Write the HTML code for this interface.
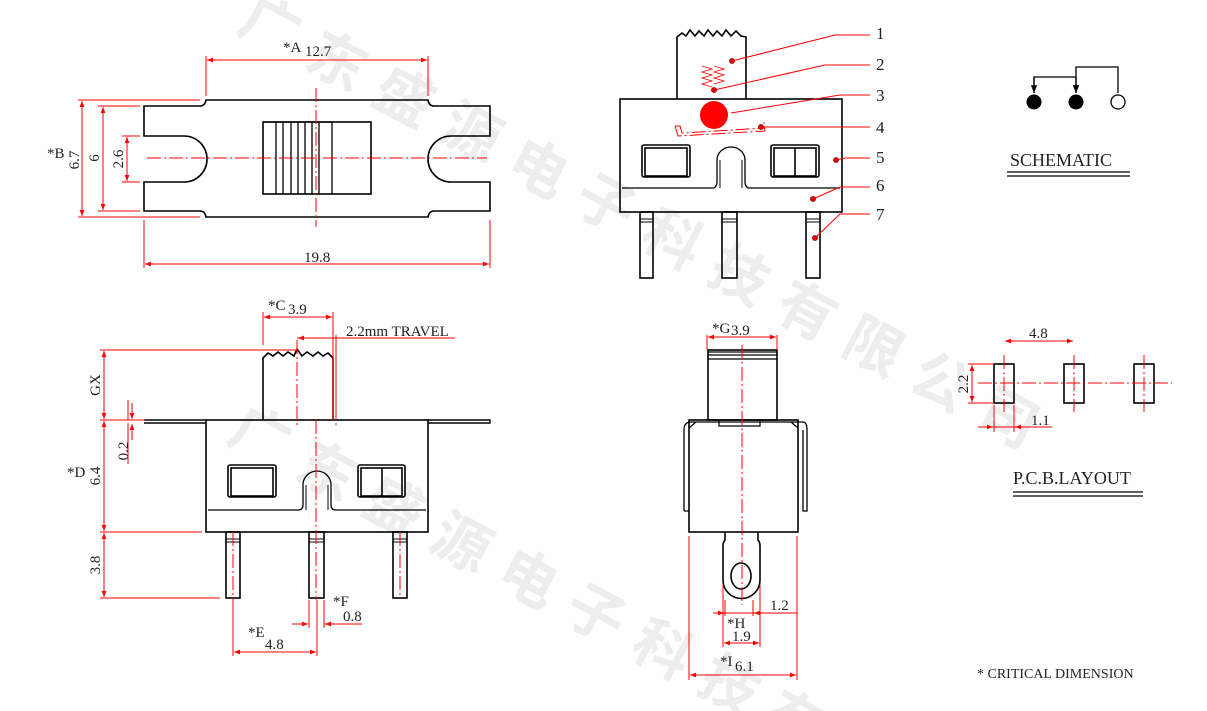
<!DOCTYPE html>
<html><head><meta charset="utf-8"><style>
html,body{margin:0;padding:0;background:#fff;width:1207px;height:711px;overflow:hidden;}
svg{display:block;}
text{font-family:"Liberation Serif",serif;}
.wm{font-family:"Noto Sans CJK SC",sans-serif;font-weight:bold;fill:#ededed;font-size:58px;}
</style></head><body>
<svg width="1207" height="711" viewBox="0 0 1207 711" xmlns="http://www.w3.org/2000/svg">
<defs>
<marker id="a" viewBox="0 0 10 10" refX="10" refY="5" markerWidth="8" markerHeight="6" orient="auto-start-reverse"><path d="M0,1 L10,5 L0,9z" fill="#f00"/></marker>
<marker id="k" viewBox="0 0 10 10" refX="10" refY="5" markerWidth="7" markerHeight="6" orient="auto"><path d="M0,1 L10,5 L0,9z" fill="#000"/></marker>
</defs>
<text class="wm" x="0" y="0" transform="translate(235,30) rotate(28)" letter-spacing="18">广东盛源电子科技有限公司</text>
<text class="wm" x="0" y="0" transform="translate(225,440) rotate(28)" letter-spacing="18">广东盛源电子科技有限公司</text>

<g fill="none" stroke="#000" stroke-width="1.6">
<path d="M144,106 H200 Q205,106 206,100 H428 Q429,106 434,106 H490 V136 H451 A23,23 0 0 0 451,182 H490 V211 H434 Q429,211 428,217 H206 Q205,211 200,211 H144 V182 H184 A23,23 0 0 0 184,136 H144 Z"/>
<rect x="263" y="122" width="108" height="72"/>
<path d="M263,122 H332 V194 M276,122V194 M283,122V194 M291,122V194 M298,122V194 M305,122V194 M312,122V194 M319,122V194" stroke-width="1.3"/>
<path d="M677,99 V37 L682,33 L686,36 L690,30 L695,36 L699,31 L704,36 L708,30 L713,36 L717,31 L722,36 L726,30 L731,36 L736,31 L741,36 L746,37 V99"/>
<rect x="620" y="99" width="222" height="113"/>
<path d="M622,188 H714 Q717,186 717,182 V160 A14,13 0 0 1 745,160 V182 Q745,186 748,188 H840" stroke-width="1.3"/>
<path d="M720,188 V160 M742,188 V160" stroke-width="1"/>
<rect x="642" y="145" width="48" height="32" rx="2"/><rect x="645" y="148" width="42" height="28"/>
<rect x="771" y="145" width="48" height="32" rx="2"/><rect x="774" y="148" width="42" height="28"/><line x1="795" y1="148" x2="795" y2="176"/>
<rect x="640" y="212" width="13" height="66"/><rect x="722" y="212" width="15" height="66"/><rect x="806" y="212" width="14" height="66"/>
<path d="M640,219H653M640,222H653M722,219H737M722,222H737M806,219H820M806,222H820" stroke-width="1"/>
<path d="M263,420 V358 L268,353 L273,356 L278,352 L283,356 L288,352 L294,356 L297,349 L302,356 L307,352 L313,356 L318,352 L323,356 L328,353 L333,358 V420"/>
<path d="M144,420 H206 M428,420 H490 V423 H428 M206,423 H144 Z" stroke-width="1.4"/>
<rect x="206" y="420" width="222" height="112"/>
<path d="M208,510 H298 Q303,510 303,505 V485 A14,14 0 0 1 331,485 V505 Q331,510 336,510 H426" stroke-width="1.3"/>
<path d="M306,510 V485 M328,510 V485" stroke-width="1"/>
<rect x="228" y="465" width="48" height="32" rx="2"/><rect x="231" y="468" width="42" height="28"/>
<rect x="358" y="465" width="47" height="32" rx="2"/><rect x="361" y="468" width="41" height="28"/><line x1="382" y1="468" x2="382" y2="496"/>
<rect x="226" y="532" width="14" height="66"/><rect x="309" y="532" width="15" height="66"/><rect x="393" y="532" width="14" height="66"/>
<path d="M226,539H240M226,542H240M309,539H324M309,542H324M393,539H407M393,542H407" stroke-width="1"/>
<rect x="708" y="350" width="69" height="70"/>
<path d="M708,352H777M708,355H777M708,359H777" stroke-width="1.2"/>
<rect x="689" y="420" width="109" height="112"/>
<path d="M684,511 V430 Q684,422 691,422 H803 Q807,422 807,430 V511 H803 V430 M684,511 H689" stroke-width="1.3"/>
<path d="M689,428 L696,422 M798,428 L791,422 M719,420 V426 H760 V420" stroke-width="1.2"/>
<path d="M725,532 V540 Q723,542 723,546 V580 A18,18 0 0 0 760,580 V546 Q760,542 758,540 V532"/>
<ellipse cx="741" cy="576" rx="10" ry="13"/>
<path d="M1034,93 V77 H1076 V67 H1118 V93 M1076,77 V93" stroke-width="1.3" marker-end="url(#k)"/>
<line x1="1076" y1="77" x2="1076" y2="93" stroke-width="1.3" marker-end="url(#k)"/>
<line x1="1034" y1="77" x2="1034" y2="93" stroke-width="1.3" marker-end="url(#k)"/>
<circle cx="1118" cy="102" r="7" stroke-width="1.3"/>
<path d="M1007,172H1130M1007,176H1130" stroke-width="1.2"/>
<rect x="994" y="364" width="20" height="39"/><rect x="1064" y="364" width="20" height="39"/><rect x="1134" y="364" width="20" height="39"/>
<path d="M1013,492H1143M1013,496H1143" stroke-width="1.2"/>
</g>
<circle cx="1034" cy="102" r="7.5"/><circle cx="1076" cy="102" r="7.5"/>

<g stroke="#f00" fill="none" stroke-width="1">
<g stroke-dasharray="14,3,2,3">
<line x1="147" y1="158" x2="487" y2="158"/><line x1="316" y1="88" x2="316" y2="227"/>
<line x1="316" y1="420" x2="316" y2="600"/><line x1="297" y1="340" x2="297" y2="425"/><line x1="336" y1="340" x2="336" y2="425"/>
<line x1="233" y1="532" x2="233" y2="655"/><line x1="400" y1="532" x2="400" y2="598"/>
<line x1="742" y1="345" x2="742" y2="605"/>
<line x1="978" y1="383" x2="1172" y2="383"/>
<line x1="1004" y1="355" x2="1004" y2="412"/><line x1="1074" y1="355" x2="1074" y2="412"/><line x1="1144" y1="355" x2="1144" y2="412"/>
<path d="M675,126 L678,136 L765,131 L764,122 M675,126 L680,126 L682,133 L765,128" />
</g>
<path d="M206,56V96 M428,56V96 M78,100H200 M98,106H140 M122,136H140 M122,182H140 M98,211H140 M78,217H200 M144,220V268 M490,220V268"/>
<g marker-start="url(#a)" marker-end="url(#a)">
<line x1="207" y1="60" x2="427" y2="60"/><line x1="82" y1="101" x2="82" y2="216"/><line x1="103" y1="107" x2="103" y2="210"/><line x1="127" y1="137" x2="127" y2="181"/><line x1="145" y1="264" x2="489" y2="264"/>
</g>
<path d="M835,35H870 M732,61L835,35 M825,65H870 M714,90L825,65 M840,95H870 M731,113L840,95 M761,127H870 M845,158H870 M836,160L845,158 M840,187H870 M813,199L840,187 M840,214H870 M815,238L840,214"/>
<path d="M702,66 L712,69 L702,72 L712,75 L702,78 L712,81 L702,84 L712,87 M714,66 L724,69 L714,72 L724,75 L714,78 L724,81 L714,84" stroke-width="0.8"/>
<path d="M263,312V345 M333,312V420 M100,350H297 M336,335V420 M128,420H145 M100,420H145 M100,532H202 M100,598H220 M128,400V420 M128,423V464 M309,600V628 M324,600V628 M233,600V656 M317,600V656 M297,338H455 M324,624H362"/>
<g marker-start="url(#a)" marker-end="url(#a)">
<line x1="264" y1="317" x2="332" y2="317"/><line x1="104" y1="351" x2="104" y2="419"/><line x1="104" y1="421" x2="104" y2="531"/><line x1="104" y1="533" x2="104" y2="597"/><line x1="234" y1="652" x2="316" y2="652"/>
</g>
<path d="M298,338H335" marker-start="url(#a)"/>
<line x1="132" y1="403" x2="132" y2="419" marker-end="url(#a)"/><line x1="132" y1="440" x2="132" y2="424" marker-end="url(#a)"/>
<line x1="292" y1="624" x2="308" y2="624" marker-end="url(#a)"/><line x1="340" y1="624" x2="325" y2="624" marker-end="url(#a)"/>
<path d="M707,335V350 M777,335V350 M689,536V680 M797,536V680 M723,585V647 M760,585V647 M725,600V616 M753,600V616 M713,613H797"/>
<g marker-start="url(#a)" marker-end="url(#a)">
<line x1="708" y1="337" x2="776" y2="337"/><line x1="724" y1="643" x2="759" y2="643"/><line x1="690" y1="675" x2="796" y2="675"/>
</g>
<line x1="714" y1="613" x2="724" y2="613" marker-end="url(#a)"/><line x1="765" y1="613" x2="754" y2="613" marker-end="url(#a)"/>
<path d="M968,364H994 M968,403H994 M994,405V432 M1014,405V432 M978,427H1052"/>
<g marker-start="url(#a)" marker-end="url(#a)">
<line x1="1005" y1="341" x2="1073" y2="341"/><line x1="972" y1="365" x2="972" y2="402"/>
</g>
<line x1="982" y1="427" x2="993" y2="427" marker-end="url(#a)"/><line x1="1025" y1="427" x2="1015" y2="427" marker-end="url(#a)"/>
</g>
<g fill="#e00" stroke="#800" stroke-width="0.8">
<circle cx="732" cy="61" r="2.5"/><circle cx="714" cy="90" r="2.5"/><circle cx="761" cy="127" r="2.5"/><circle cx="836" cy="160" r="2.5"/><circle cx="813" cy="199" r="2.5"/><circle cx="815" cy="238" r="2.5"/>
</g>
<circle cx="714" cy="115" r="14" fill="#f00"/>

<g fill="#222" font-size="15">
<text x="283" y="52">*A</text><text x="305" y="56">12.7</text>
<text x="304" y="262">19.8</text>
<text transform="translate(79,160) rotate(-90)" text-anchor="middle">6.7</text>
<text x="47" y="158">*B</text>
<text transform="translate(99,158) rotate(-90)" text-anchor="middle">6</text>
<text transform="translate(123,159) rotate(-90)" text-anchor="middle">2.6</text>
<g font-size="17"><text x="876" y="39">1</text><text x="876" y="70">2</text><text x="876" y="101">3</text><text x="876" y="133">4</text><text x="876" y="163">5</text><text x="876" y="191">6</text><text x="876" y="220">7</text></g>
<text x="268" y="310">*C</text><text x="288" y="314">3.9</text>
<text x="346" y="336">2.2mm TRAVEL</text>
<text transform="translate(100,385) rotate(-90)" text-anchor="middle">GX</text>
<text transform="translate(128,451) rotate(-90)" text-anchor="middle">0.2</text>
<text x="67" y="477">*D</text>
<text transform="translate(100,476) rotate(-90)" text-anchor="middle">6.4</text>
<text transform="translate(100,565) rotate(-90)" text-anchor="middle">3.8</text>
<text x="333" y="606">*F</text><text x="343" y="621">0.8</text>
<text x="248" y="637">*E</text><text x="265" y="649">4.8</text>
<text x="712" y="333">*G</text><text x="731" y="335">3.9</text>
<text x="770" y="610">1.2</text>
<text x="727" y="628">*H</text><text x="732" y="641">1.9</text>
<text x="720" y="666">*I</text><text x="735" y="671">6.1</text>
<text x="1029" y="338">4.8</text>
<text transform="translate(968,384) rotate(-90)" text-anchor="middle">2.2</text>
<text x="1031" y="425">1.1</text>
<text x="1010" y="166" font-size="18">SCHEMATIC</text>
<text x="1013" y="484" font-size="18">P.C.B.LAYOUT</text>
<text x="977" y="678" font-size="14">* CRITICAL  DIMENSION</text>
</g>
</svg>
</body></html>
